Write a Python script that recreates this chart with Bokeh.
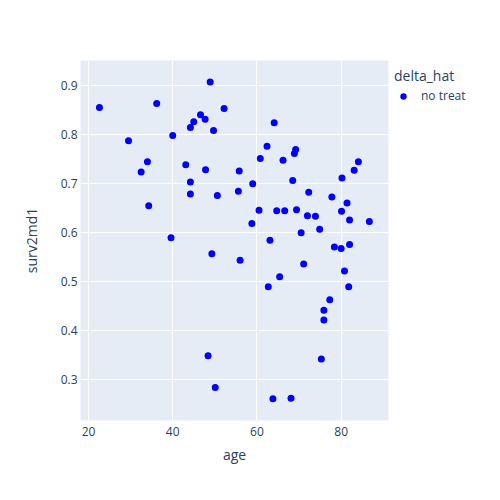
from bokeh.plotting import figure
from bokeh.models import Legend, LegendItem, FixedTicker, ColumnDataSource, Range1d
from bokeh.embed import file_html
from bokeh.resources import INLINE

age = [22.6, 36.2, 48.9, 52.2, 46.6, 47.7, 45.0, 44.2, 49.7, 40.0,
       29.5, 34.0, 32.5, 43.1, 47.8, 44.2, 44.2, 50.6, 34.3, 39.6,
       64.1, 62.4, 69.2, 68.9, 60.8, 66.2, 55.8, 84.1, 83.1, 80.2,
       59.0, 68.5, 55.6, 72.3, 77.8, 81.4, 60.5, 64.7, 66.6, 69.4,
       80.1, 72.0, 73.9, 82.0, 86.7, 58.8, 74.9, 70.5, 63.1, 78.4,
       80.0, 82.0, 56.0, 71.1, 65.4, 80.8, 62.7, 81.8, 77.3, 75.9,
       75.9, 75.3, 63.8, 68.1, 49.3, 48.4, 50.1]
surv2md1 = [0.855, 0.863, 0.907, 0.853, 0.840, 0.831, 0.826, 0.814, 0.808, 0.798,
            0.787, 0.744, 0.723, 0.738, 0.728, 0.703, 0.678, 0.675, 0.654, 0.589,
            0.824, 0.776, 0.769, 0.761, 0.751, 0.747, 0.725, 0.744, 0.727, 0.711,
            0.699, 0.706, 0.684, 0.682, 0.672, 0.660, 0.645, 0.644, 0.644, 0.646,
            0.643, 0.634, 0.633, 0.625, 0.622, 0.618, 0.606, 0.599, 0.584, 0.570,
            0.567, 0.575, 0.543, 0.535, 0.509, 0.521, 0.489, 0.489, 0.462, 0.441,
            0.421, 0.341, 0.260, 0.261, 0.556, 0.348, 0.283]
group_name = "no treat"
legend_title = "delta_hat"
x_ticks = [20, 40, 60, 80]
y_ticks = [0.3, 0.4, 0.5, 0.6, 0.7, 0.8, 0.9]
y_tick_labels = ["0.3", "0.4", "0.5", "0.6", "0.7", "0.8", "0.9"]

FONT = "Open Sans"
TXT = "#2a3f5f"

src = ColumnDataSource(dict(x=age, y=surv2md1))

p = figure(frame_width=308, frame_height=360, output_backend="svg", toolbar_location=None,
           x_range=Range1d(18.1, 91.25), y_range=Range1d(0.2155, 0.951),
           min_border_left=80, min_border_top=60, min_border_bottom=70, min_border_right=0,
           background_fill_color="#E5ECF6", border_fill_color="white", outline_line_color=None)

r = p.scatter("x", "y", source=src, size=7, color="#0000ff", line_color=None)

p.xaxis.ticker = FixedTicker(ticks=x_ticks)
p.yaxis.ticker = FixedTicker(ticks=y_ticks)
p.yaxis.major_label_overrides = {t: l for t, l in zip(y_ticks, y_tick_labels)}
p.xaxis.axis_label = "age"
p.yaxis.axis_label = "surv2md1"
for ax in (p.xaxis[0], p.yaxis[0]):
    ax.axis_line_color = None
    ax.major_tick_line_color = None
    ax.minor_tick_line_color = None
    ax.major_tick_out = 0
    ax.minor_tick_out = 0
    ax.major_label_text_font = FONT
    ax.major_label_text_font_size = "12px"
    ax.major_label_text_color = TXT
    ax.axis_label_text_font = FONT
    ax.axis_label_text_font_size = "14px"
    ax.axis_label_text_color = TXT
    ax.axis_label_text_font_style = "normal"
p.xaxis.major_label_standoff = 6
p.xaxis.axis_label_standoff = 6
p.yaxis.major_label_standoff = 3
p.yaxis.axis_label_standoff = 17

p.xgrid.grid_line_color = "white"
p.ygrid.grid_line_color = "white"
p.xgrid.grid_line_width = 1
p.ygrid.grid_line_width = 1

legend = Legend(items=[LegendItem(label=group_name, renderers=[r])], title=legend_title,
                location="top_left", orientation="vertical")
legend.title_text_font = FONT
legend.title_text_font_size = "14px"
legend.title_text_color = TXT
legend.title_text_font_style = "normal"
legend.label_text_font = FONT
legend.label_text_font_size = "12px"
legend.label_text_color = TXT
legend.border_line_color = None
legend.background_fill_alpha = 0
legend.margin = 6
legend.padding = 4
legend.glyph_width = 18
legend.glyph_height = 16
legend.label_standoff = 9
legend.title_standoff = 2
p.add_layout(legend, "right")

open("out.html", "w").write(file_html(p, INLINE))
